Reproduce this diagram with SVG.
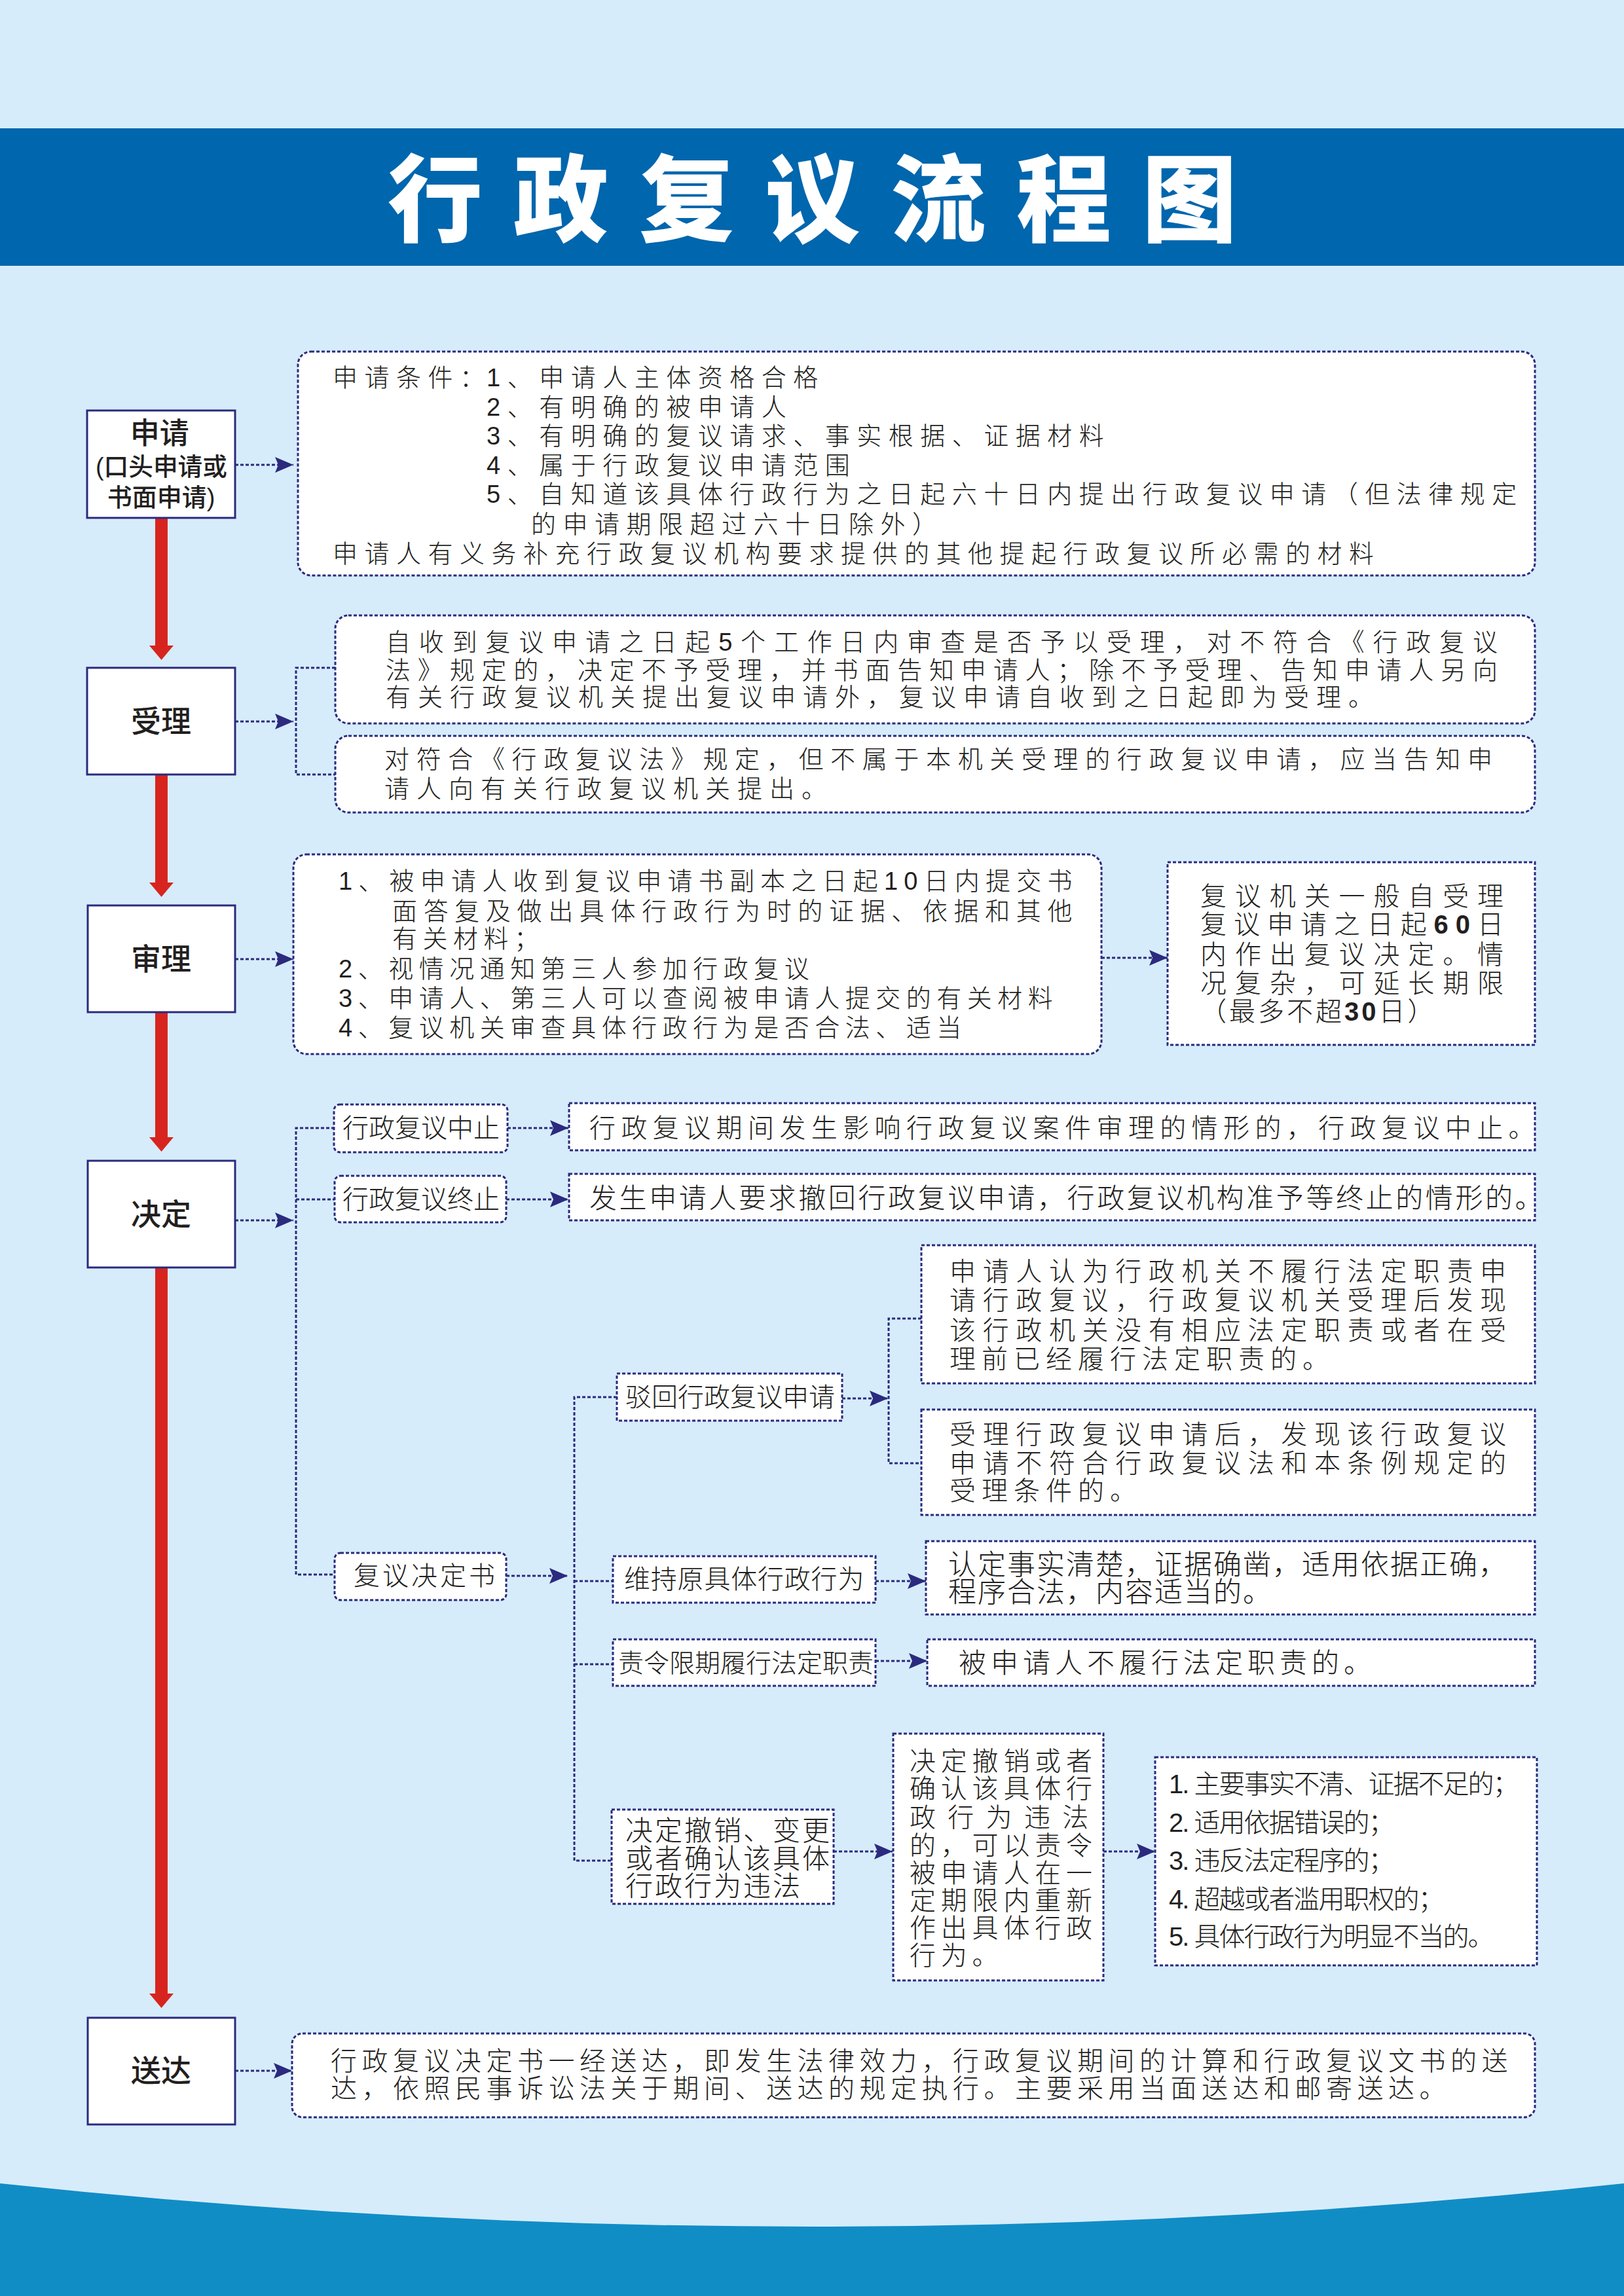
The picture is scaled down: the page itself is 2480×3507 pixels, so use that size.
<svg xmlns="http://www.w3.org/2000/svg" width="2480" height="3507" viewBox="0 0 2480 3507">
<defs>
<style>
.t{font-family:"Liberation Sans","Noto Sans CJK SC","Noto Sans CJK TC",sans-serif;fill:#231f20;dominant-baseline:central;font-weight:300}
.lbl{font-weight:500;text-anchor:middle;font-size:46px}
.box{fill:#fff;stroke:#2b2a7e;stroke-width:3;stroke-dasharray:5 3}
.solid{fill:#fff;stroke:#2b2a7e;stroke-width:3}
.conn{fill:none;stroke:#2b2a7e;stroke-width:3;stroke-dasharray:5 3}
.red{fill:#d8241f}
.b1{font-size:38px;letter-spacing:10.5px}
.b2{font-size:38px;letter-spacing:11px}
.b3{font-size:38px;letter-spacing:8.5px}
.b4{font-size:40px;letter-spacing:13px}
.b5{font-size:40px;letter-spacing:9px}
.b6{font-size:40px;letter-spacing:7.8px}
.b7{font-size:40px;letter-spacing:7.5px}
.sm{font-size:40px}
.lst{font-size:40px;letter-spacing:-2px}
.num{font-family:"Liberation Sans",sans-serif;font-weight:700}
</style>
<marker id="arr" markerUnits="userSpaceOnUse" markerWidth="30" markerHeight="26" refX="28" refY="12" orient="auto">
<path d="M0,0 L28,12 L0,24 L5,12 Z" fill="#2b2a7e"/>
</marker>
</defs>

<g id="background">
<rect x="0" y="0" width="2480" height="3507" fill="#d6ecfa"/>
<rect x="0" y="196" width="2480" height="210" fill="#0066ad"/>
<path d="M0,3335 Q1240,3467 2480,3335 L2480,3507 L0,3507 Z" fill="#118dc6"/>
</g>

<g id="title">
<text class="t" x="592" y="308" style="font-size:145px;letter-spacing:47px;font-weight:900;fill:#fff">行政复议流程图</text>
</g>

<g id="connectors">
<rect class="red" x="237" y="791" width="19" height="197"/>
<polygon class="red" points="228,986 265,986 246.5,1008"/>
<rect class="red" x="237" y="1183" width="19" height="167"/>
<polygon class="red" points="228,1348 265,1348 246.5,1370"/>
<rect class="red" x="237" y="1546" width="19" height="193"/>
<polygon class="red" points="228,1737 265,1737 246.5,1759"/>
<rect class="red" x="237" y="1936" width="19" height="1111"/>
<polygon class="red" points="228,3045 265,3045 246.5,3067"/>

<path class="conn" d="M359,710 H448" marker-end="url(#arr)"/>
<path class="conn" d="M359,1102 H448" marker-end="url(#arr)"/>
<path class="conn" d="M512,1020 H452 V1183 H512"/>
<path class="conn" d="M359,1465 H448" marker-end="url(#arr)"/>
<path class="conn" d="M1682,1463 H1783" marker-end="url(#arr)"/>
<path class="conn" d="M359,1864 H448" marker-end="url(#arr)"/>
<path class="conn" d="M511,1723 H452 V2405 H511"/>
<path class="conn" d="M452,1832 H511"/>
<path class="conn" d="M775,1723 H868" marker-end="url(#arr)"/>
<path class="conn" d="M773,1832 H868" marker-end="url(#arr)"/>
<path class="conn" d="M773,2407 H867" marker-end="url(#arr)"/>
<path class="conn" d="M942,2134 H877 V2842 H934"/>
<path class="conn" d="M877,2415 H936"/>
<path class="conn" d="M877,2542 H936"/>
<path class="conn" d="M1286,2136 H1356" marker-end="url(#arr)"/>
<path class="conn" d="M1407,2014 H1357 V2235 H1407"/>
<path class="conn" d="M1337,2415 H1414" marker-end="url(#arr)"/>
<path class="conn" d="M1337,2537 H1416" marker-end="url(#arr)"/>
<path class="conn" d="M1273,2828 H1363" marker-end="url(#arr)"/>
<path class="conn" d="M1685,2828 H1764" marker-end="url(#arr)"/>
<path class="conn" d="M359,3163 H446" marker-end="url(#arr)"/>
</g>

<g id="n-shenqing">
<rect class="solid" x="133" y="627" width="226" height="164"/>
<text class="t" style="font-weight:500">
<tspan x="246" y="662" style="font-size:45px;text-anchor:middle">申请</tspan>
<tspan x="146" y="713" textLength="201" lengthAdjust="spacingAndGlyphs" style="font-size:38px">(口头申请或</tspan>
<tspan x="246" y="760" style="font-size:38px;text-anchor:middle">书面申请)</tspan>
</text>
</g>

<g id="n-shenqing-cond">
<rect class="box" x="455" y="537" width="1889" height="342" rx="20"/>
<text class="t b1">
<tspan x="508" y="577">申请条件：</tspan>
<tspan x="743" y="577">1、申请人主体资格合格</tspan>
<tspan x="743" y="622">2、有明确的被申请人</tspan>
<tspan x="743" y="666">3、有明确的复议请求、事实根据、证据材料</tspan>
<tspan x="743" y="711">4、属于行政复议申请范围</tspan>
<tspan x="743" y="755">5、自知道该具体行政行为之日起六十日内提出行政复议申请（但法律规定</tspan>
<tspan x="811" y="801">的申请期限超过六十日除外）</tspan>
<tspan x="508" y="846">申请人有义务补充行政复议机构要求提供的其他提起行政复议所必需的材料</tspan>
</text>
</g>

<g id="n-shouli">
<rect class="solid" x="133" y="1020" width="226" height="163"/>
<text class="t lbl" x="246" y="1102">受理</text>
</g>

<g id="n-shouli-1">
<rect class="box" x="512" y="940" width="1832" height="165" rx="20"/>
<text class="t b2">
<tspan x="589" y="981" textLength="1709">自收到复议申请之日起5个工作日内审查是否予以受理，对不符合《行政复议</tspan>
<tspan x="589" y="1024" textLength="1709">法》规定的，决定不予受理，并书面告知申请人；除不予受理、告知申请人另向</tspan>
<tspan x="589" y="1065">有关行政复议机关提出复议申请外，复议申请自收到之日起即为受理。</tspan>
</text>
</g>

<g id="n-shouli-2">
<rect class="box" x="512" y="1124" width="1832" height="117" rx="20"/>
<text class="t b2">
<tspan x="587" y="1160" textLength="1703">对符合《行政复议法》规定，但不属于本机关受理的行政复议申请，应当告知申</tspan>
<tspan x="587" y="1205">请人向有关行政复议机关提出。</tspan>
</text>
</g>

<g id="n-shenli">
<rect class="solid" x="134" y="1383" width="225" height="163"/>
<text class="t lbl" x="246" y="1465">审理</text>
</g>

<g id="n-shenli-content">
<rect class="box" x="448" y="1305" width="1234" height="305" rx="20"/>
<text class="t b3">
<tspan x="517" y="1346" textLength="1129">1、被申请人收到复议申请书副本之日起10日内提交书</tspan>
<tspan x="599" y="1392" textLength="1047">面答复及做出具体行政行为时的证据、依据和其他</tspan>
<tspan x="599" y="1434">有关材料；</tspan>
<tspan x="517" y="1480">2、视情况通知第三人参加行政复议</tspan>
<tspan x="517" y="1525">3、申请人、第三人可以查阅被申请人提交的有关材料</tspan>
<tspan x="517" y="1570">4、复议机关审查具体行政行为是否合法、适当</tspan>
</text>
</g>

<g id="n-shenli-time">
<rect class="box" x="1783" y="1317" width="561" height="279"/>
<text class="t b4">
<tspan x="1833" y="1369" textLength="476">复议机关一般自受理</tspan>
<tspan x="1833" y="1412" textLength="476">复议申请之日起<tspan class="num">60</tspan>日</tspan>
<tspan x="1833" y="1458" textLength="476">内作出复议决定。情</tspan>
<tspan x="1833" y="1502" textLength="476">况复杂，可延长期限</tspan>
<tspan x="1833" y="1545" style="letter-spacing:4px">（最多不超<tspan class="num">30</tspan>日）</tspan>
</text>
</g>

<g id="n-jueding">
<rect class="solid" x="134" y="1773" width="225" height="163"/>
<text class="t lbl" x="246" y="1855">决定</text>
</g>

<g id="n-zhongzhi">
<rect class="box" x="510" y="1687" width="265" height="73" rx="9"/>
<text class="t sm" x="523" y="1723">行政复议中止</text>
</g>
<g id="n-zhongzhi-content">
<rect class="box" x="869" y="1685" width="1475" height="72"/>
<text class="t" x="900" y="1723" style="font-size:40px;letter-spacing:8.4px">行政复议期间发生影响行政复议案件审理的情形的，行政复议中止。</text>
</g>

<g id="n-zhongzhi2">
<rect class="box" x="511" y="1796" width="262" height="71" rx="9"/>
<text class="t sm" x="523" y="1832">行政复议终止</text>
</g>
<g id="n-zhongzhi2-content">
<rect class="box" x="869" y="1793" width="1475" height="71"/>
<text class="t" x="900" y="1830" style="font-size:42px;letter-spacing:3.6px">发生申请人要求撤回行政复议申请，行政复议机构准予等终止的情形的。</text>
</g>

<g id="n-jdshu">
<rect class="box" x="511" y="2372" width="262" height="72" rx="9"/>
<text class="t sm" x="540" y="2407" style="letter-spacing:4px">复议决定书</text>
</g>

<g id="n-bohui">
<rect class="box" x="942" y="2098" width="344" height="72"/>
<text class="t sm" x="955" y="2134">驳回行政复议申请</text>
</g>
<g id="n-bohui-a">
<rect class="box" x="1407" y="1902" width="937" height="211"/>
<text class="t b5">
<tspan x="1450" y="1942" textLength="859">申请人认为行政机关不履行法定职责申</tspan>
<tspan x="1450" y="1986" textLength="859">请行政复议，行政复议机关受理后发现</tspan>
<tspan x="1450" y="2032" textLength="859">该行政机关没有相应法定职责或者在受</tspan>
<tspan x="1450" y="2076">理前已经履行法定职责的。</tspan>
</text>
</g>
<g id="n-bohui-b">
<rect class="box" x="1407" y="2153" width="937" height="161"/>
<text class="t b5">
<tspan x="1450" y="2191" textLength="859">受理行政复议申请后，发现该行政复议</tspan>
<tspan x="1450" y="2235" textLength="859">申请不符合行政复议法和本条例规定的</tspan>
<tspan x="1450" y="2277">受理条件的。</tspan>
</text>
</g>

<g id="n-weichi">
<rect class="box" x="936" y="2377" width="401" height="71"/>
<text class="t sm" x="953" y="2412" style="letter-spacing:0.8px">维持原具体行政行为</text>
</g>
<g id="n-weichi-content">
<rect class="box" x="1414" y="2354" width="930" height="112"/>
<text class="t" style="font-size:43px;letter-spacing:2px">
<tspan x="1448" y="2390">认定事实清楚，证据确凿，适用依据正确，</tspan>
<tspan x="1448" y="2432">程序合法，内容适当的。</tspan>
</text>
</g>

<g id="n-zeling">
<rect class="box" x="936" y="2504" width="401" height="71"/>
<text class="t" x="944" y="2540" style="font-size:39px">责令限期履行法定职责</text>
</g>
<g id="n-zeling-content">
<rect class="box" x="1416" y="2504" width="928" height="71"/>
<text class="t" x="1464" y="2540" style="font-size:42px;letter-spacing:7px">被申请人不履行法定职责的。</text>
</g>

<g id="n-chexiao">
<rect class="box" x="934" y="2764" width="339" height="144"/>
<text class="t" style="font-size:42px;letter-spacing:3px">
<tspan x="955" y="2796">决定撤销、变更</tspan>
<tspan x="955" y="2839">或者确认该具体</tspan>
<tspan x="955" y="2881">行政行为违法</tspan>
</text>
</g>
<g id="n-chexiao-content">
<rect class="box" x="1364" y="2648" width="321" height="377"/>
<text class="t b6">
<tspan x="1389" y="2690">决定撤销或者</tspan>
<tspan x="1389" y="2732">确认该具体行</tspan>
<tspan x="1389" y="2776" textLength="281">政行为违法</tspan>
<tspan x="1389" y="2819">的，可以责令</tspan>
<tspan x="1389" y="2861">被申请人在一</tspan>
<tspan x="1389" y="2903">定期限内重新</tspan>
<tspan x="1389" y="2945">作出具体行政</tspan>
<tspan x="1389" y="2987">行为。</tspan>
</text>
</g>
<g id="n-chexiao-list">
<rect class="box" x="1764" y="2684" width="583" height="318"/>
<text class="t lst">
<tspan x="1785" y="2725">1. 主要事实不清、证据不足的；</tspan>
<tspan x="1785" y="2784">2. 适用依据错误的；</tspan>
<tspan x="1785" y="2842">3. 违反法定程序的；</tspan>
<tspan x="1785" y="2901">4. 超越或者滥用职权的；</tspan>
<tspan x="1785" y="2958">5. 具体行政行为明显不当的。</tspan>
</text>
</g>

<g id="n-songda">
<rect class="solid" x="134" y="3082" width="225" height="163"/>
<text class="t lbl" x="246" y="3163">送达</text>
</g>
<g id="n-songda-content">
<rect class="box" x="446" y="3106" width="1898" height="128" rx="16"/>
<text class="t b7">
<tspan x="505" y="3148">行政复议决定书一经送达，即发生法律效力，行政复议期间的计算和行政复议文书的送</tspan>
<tspan x="505" y="3190">达，依照民事诉讼法关于期间、送达的规定执行。主要采用当面送达和邮寄送达。</tspan>
</text>
</g>
</svg>
